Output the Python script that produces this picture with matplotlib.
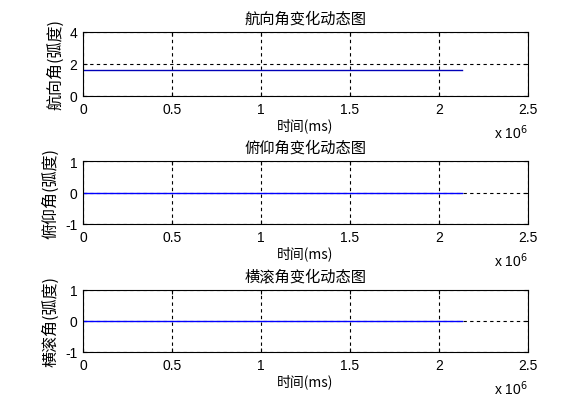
import numpy as np
import matplotlib.pyplot as plt

plt.rcParams['font.family'] = ['Noto Sans CJK SC', 'DejaVu Sans']

t = [0, 2.13e6]
yaw = [1.62, 1.62]
pitch = [0, 0]
roll = [0, 0]

titles = ['航向角变化动态图', '俯仰角变化动态图', '横滚角变化动态图']
ylabels = ['航向角(弧度)', '俯仰角(弧度)', '横滚角(弧度)']
series = [yaw, pitch, roll]
colors = ['#0000b8', '#0000ff', '#0000ff']
ylims = [(0, 4), (-1, 1), (-1, 1)]
yticks = [[0, 2, 4], [-1, 0, 1], [-1, 0, 1]]
xticks = [0, 0.5e6, 1e6, 1.5e6, 2e6, 2.5e6]
xticklabels = ['0', '0.5', '1', '1.5', '2', '2.5']

W, H = 584, 410
fig = plt.figure(figsize=(W / 100, H / 100), dpi=100)
boxes = [(83, 33, 528, 97), (83, 162, 528, 225), (83, 291, 528, 353)]

for i in range(3):
    l, tp, r, b = boxes[i]
    ax = fig.add_axes([l / W, 1 - b / H, (r - l) / W, (b - tp) / H])
    ax.plot(t, series[i], color=colors[i], lw=1)
    ax.set_xlim(0, 2.5e6)
    ax.set_ylim(*ylims[i])
    ax.set_xticks(xticks)
    ax.set_xticklabels(xticklabels, family=['Arial', 'Liberation Sans', 'DejaVu Sans'])
    ax.set_yticks(yticks[i])
    ax.set_yticklabels([str(v) for v in yticks[i]], family=['Liberation Sans', 'DejaVu Sans'])
    ax.grid(True, color='black', linestyle=(0, (3, 3)), lw=0.8)
    ax.tick_params(direction='in', length=3, labelsize=10, top=True, right=True, pad=4)
    for s in ax.spines.values():
        s.set_linewidth(0.8)
    ax.set_title(titles[i], fontsize=11, pad=7)
    ax.set_xlabel('时间(ms)', fontsize=10, labelpad=1)
    ax.set_ylabel(ylabels[i], fontsize=11.5, labelpad=4)
    ax.text(1.0, -0.42, r'x 10$^6$', transform=ax.transAxes, ha='right', va='top',
            fontsize=10, family=['Liberation Sans', 'DejaVu Sans'])

fig.savefig('out.png', dpi=100)
